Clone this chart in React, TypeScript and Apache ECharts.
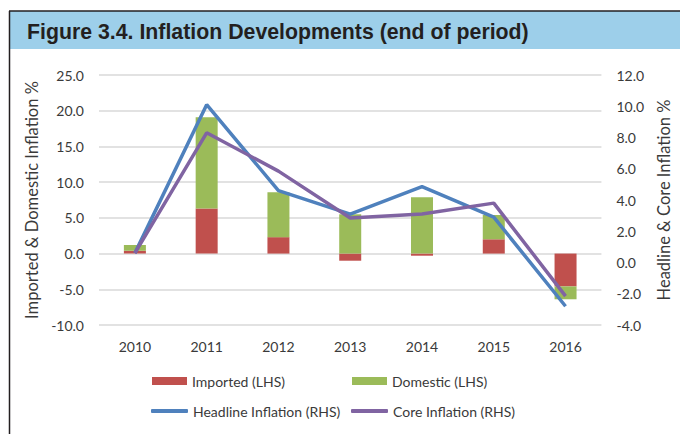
import React, { useEffect, useRef } from "react";
import * as echarts from "echarts";

const years = ["2010", "2011", "2012", "2013", "2014", "2015", "2016"];
const imported = [0.4, 6.3, 2.3, -1.0, -0.3, 2.0, -4.6];
const domestic = [0.8, 12.8, 6.3, 5.5, 7.9, 3.4, -1.8];
const headline = [0.6, 10.1, 4.6, 3.1, 4.85, 2.9, -2.8];
const core = [0.6, 8.3, 5.85, 2.85, 3.1, 3.8, -2.15];

const titleText = "Figure 3.4. Inflation Developments (end of period)";
const leftName = "Imported & Domestic Inflation %";
const rightName = "Headline & Core Inflation %";

const RED = "#c0504d";
const GREEN = "#9bbb59";
const BLUE = "#4f81bd";
const PURPLE = "#8064a2";
const FONT = "Lato, 'Open Sans', sans-serif";
const TXT = "#3a3a3a";

export default function App() {
  const ref = useRef<HTMLDivElement>(null);
  useEffect(() => {
    if (!ref.current) return;
    const chart = echarts.init(ref.current, null, { renderer: "svg" });
    const legendBase = {
      orient: "horizontal" as const,
      padding: 0,
      textStyle: { fontFamily: FONT, fontSize: 14, color: TXT },
    };
    chart.setOption({
      animation: false,
      backgroundColor: "#ffffff",
      textStyle: { fontFamily: FONT },
      grid: { left: 99, right: 77, top: 75, bottom: 109, containLabel: false },
      graphic: [
        {
          type: "rect",
          shape: { x: 10, y: 11, width: 670, height: 38 },
          style: { fill: "#9dcfea" },
          silent: true,
        },
        {
          type: "line",
          shape: { x1: 9, y1: 11, x2: 680, y2: 11 },
          style: { stroke: "#231f20", lineWidth: 1.5 },
          silent: true,
        },
        {
          type: "line",
          shape: { x1: 9.5, y1: 11, x2: 9.5, y2: 434 },
          style: { stroke: "#231f20", lineWidth: 1.5 },
          silent: true,
        },
        {
          type: "text",
          x: 27,
          y: 32,
          style: {
            text: titleText,
            fontFamily: "'Liberation Sans', Arial, sans-serif",
            fontWeight: "bold",
            fontSize: 21.3,
            fill: "#231f20",
            verticalAlign: "middle",
            align: "left",
          },
          silent: true,
        },
      ],
      legend: [
        {
          ...legendBase,
          left: 152,
          top: 374,
          icon: "rect",
          itemWidth: 35,
          itemHeight: 8,
          data: ["Imported (LHS)"],
        },
        {
          ...legendBase,
          left: 352,
          top: 374,
          icon: "rect",
          itemWidth: 35,
          itemHeight: 8,
          data: ["Domestic (LHS)"],
        },
        {
          ...legendBase,
          left: 151,
          top: 404,
          icon: "roundRect",
          itemWidth: 37,
          itemHeight: 4,
          data: ["Headline Inflation (RHS)"],
        },
        {
          ...legendBase,
          left: 351,
          top: 404,
          icon: "roundRect",
          itemWidth: 37,
          itemHeight: 4,
          data: ["Core Inflation (RHS)"],
        },
      ],
      xAxis: {
        type: "category",
        data: years,
        position: "bottom",
        axisLine: { show: false, onZero: false },
        axisTick: { show: false },
        axisLabel: { color: TXT, fontSize: 14, fontFamily: FONT, margin: 14 },
        splitLine: { show: false },
      },
      yAxis: [
        {
          type: "value",
          min: -10,
          max: 25,
          interval: 5,
          position: "left",
          axisLine: { show: false },
          axisTick: { show: false },
          axisLabel: {
            color: TXT,
            fontSize: 14,
            fontFamily: FONT,
            margin: 15,
            formatter: (v: number) => v.toFixed(1),
          },
          splitLine: { show: true, lineStyle: { color: "#d9d9d9", width: 1.5 } },
          name: leftName,
          nameLocation: "middle",
          nameRotate: 90,
          nameGap: 50,
          nameTextStyle: { color: TXT, fontSize: 16.5, fontFamily: FONT },
        },
        {
          type: "value",
          min: -4,
          max: 12,
          interval: 2,
          position: "right",
          axisLine: { show: false },
          axisTick: { show: false },
          axisLabel: {
            color: TXT,
            fontSize: 14,
            fontFamily: FONT,
            margin: 15,
            formatter: (v: number) => v.toFixed(1),
          },
          splitLine: { show: false },
          name: rightName,
          nameLocation: "middle",
          nameRotate: 90,
          nameGap: 48,
          nameTextStyle: { color: TXT, fontSize: 16.5, fontFamily: FONT },
        },
      ],
      series: [
        {
          name: "Imported (LHS)",
          type: "bar",
          stack: "lhs",
          yAxisIndex: 0,
          barWidth: 22,
          data: imported,
          itemStyle: { color: RED },
        },
        {
          name: "Domestic (LHS)",
          type: "bar",
          stack: "lhs",
          yAxisIndex: 0,
          barWidth: 22,
          data: domestic,
          itemStyle: { color: GREEN },
        },
        {
          name: "Headline Inflation (RHS)",
          type: "line",
          yAxisIndex: 1,
          data: headline,
          symbol: "none",
          lineStyle: { color: BLUE, width: 3.5 },
          itemStyle: { color: BLUE },
        },
        {
          name: "Core Inflation (RHS)",
          type: "line",
          yAxisIndex: 1,
          data: core,
          symbol: "none",
          lineStyle: { color: PURPLE, width: 3.5 },
          itemStyle: { color: PURPLE },
        },
      ],
    });
    return () => chart.dispose();
  }, []);
  return (
    <div
      ref={ref}
      style={{ position: "absolute", left: 0, top: 0, width: 680, height: 434 }}
    />
  );
}
